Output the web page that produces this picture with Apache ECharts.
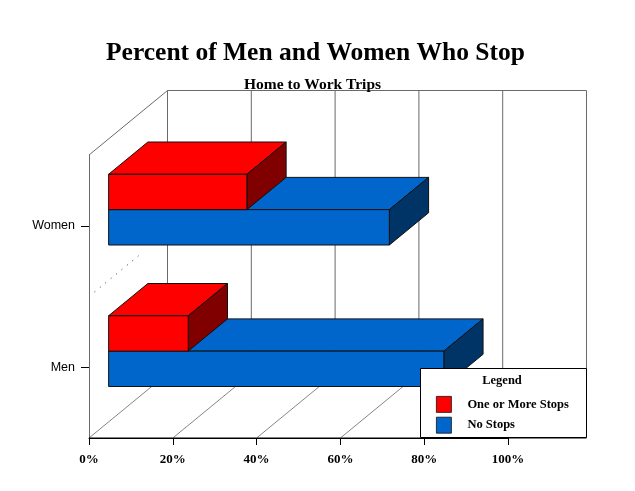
<!DOCTYPE html>
<html>
<head>
<meta charset="utf-8">
<script src="https://cdn.jsdelivr.net/npm/echarts@6/dist/echarts.min.js"></script>
<style>
  html, body { margin: 0; padding: 0; background: #fff; }
  #main { width: 635px; height: 491px; }
</style>
</head>
<body>
<div id="main"></div>
<script>
var categories = ['Men', 'Women'];
var stopsValues = [19, 33];      // One or More Stops
var noStopsValues = [80, 67];    // No Stops
var xTicks = [0, 20, 40, 60, 80, 100];

// depth of the fake 3d box, in pixels
var DX = 78.5, DY = -64.5;
var SERIF = 'Liberation Serif';

var myChart = echarts.init(document.getElementById('main'));

// walls, floor lines and back grid lines
function renderFrame(params, api) {
    var cs = params.coordSys;
    var top = cs.y, bottom = cs.y + cs.height;
    var x = api.coord([api.value(0), 0])[0];
    var kids = [
        { type: 'line', shape: { x1: x + DX, y1: top + DY, x2: x + DX, y2: bottom + DY },
          style: { stroke: '#6a6a6a', lineWidth: 1 } },
        { type: 'line', shape: { x1: x, y1: bottom, x2: x + DX, y2: bottom + DY },
          style: { stroke: '#333', lineWidth: 0.6 } }
    ];
    if (params.dataIndex === 0) {
        var right = cs.x + cs.width;
        var mid = (api.coord([0, 0])[1] + api.coord([0, 1])[1]) / 2;
        kids.push(
            { type: 'line', shape: { x1: cs.x, y1: top, x2: cs.x + DX, y2: top + DY },
              style: { stroke: '#6a6a6a', lineWidth: 1 } },
            { type: 'line', shape: { x1: cs.x + DX, y1: top + DY, x2: right + DX, y2: top + DY },
              style: { stroke: '#6a6a6a', lineWidth: 1 } },
            { type: 'line', shape: { x1: cs.x + DX, y1: bottom + DY, x2: right + DX, y2: bottom + DY },
              style: { stroke: '#6a6a6a', lineWidth: 0.6 } },
            { type: 'line', shape: { x1: cs.x, y1: bottom, x2: right + DX, y2: bottom },
              style: { stroke: '#000', lineWidth: 1 } },
            { type: 'line', shape: { x1: cs.x + DX * 0.07, y1: mid + DY * 0.07, x2: cs.x + DX * 0.63, y2: mid + DY * 0.63 },
              style: { stroke: '#333', lineWidth: 1, lineDash: [1, 6] } }
        );
    }
    return { type: 'group', children: kids };
}

// 3d bar, half of the band; upper = true for the red one
function makeBar(upper, front, side) {
    return function (params, api) {
        var cat = api.value(1);
        var p0 = api.coord([0, cat]);
        var p1 = api.coord([api.value(0), cat]);
        var band = api.size([0, 1])[1];
        var y0 = upper ? p0[1] - band * 0.25 : p0[1];
        var y1 = upper ? p0[1] : p0[1] + band * 0.25;
        var fx0 = p0[0] + DX * 0.25, fx1 = p1[0] + DX * 0.25;
        var fy0 = y0 + DY * 0.25, fy1 = y1 + DY * 0.25;
        var dx = DX * 0.5, dy = DY * 0.5;
        var edge = { stroke: '#111', lineWidth: 1, lineJoin: 'round' };
        return {
            type: 'group',
            children: [
                { type: 'polygon', shape: { points: [[fx0, fy0], [fx1, fy0], [fx1 + dx, fy0 + dy], [fx0 + dx, fy0 + dy]] },
                  style: Object.assign({ fill: front }, edge) },
                { type: 'polygon', shape: { points: [[fx1, fy0], [fx1 + dx, fy0 + dy], [fx1 + dx, fy1 + dy], [fx1, fy1]] },
                  style: Object.assign({ fill: side }, edge) },
                { type: 'polygon', shape: { points: [[fx0, fy0], [fx1, fy0], [fx1, fy1], [fx0, fy1]] },
                  style: Object.assign({ fill: front }, edge) }
            ]
        };
    };
}

myChart.setOption({
    animation: false,
    backgroundColor: '#fff',
    title: [
        {
            text: 'Percent of Men and Women Who Stop',
            left: 106, top: 40, padding: 0,
            textStyle: { fontFamily: SERIF, fontWeight: 'bold', fontSize: 25.5, color: '#000' }
        },
        {
            text: 'Home to Work Trips',
            left: 244, top: 77, padding: 0,
            textStyle: { fontFamily: SERIF, fontWeight: 'bold', fontSize: 15.5, color: '#000' }
        }
    ],
    grid: { left: 89, top: 155, width: 419, height: 283 },
    xAxis: {
        type: 'value', min: 0, max: 100, interval: 20,
        axisLine: { show: true, lineStyle: { color: '#000', width: 1 } },
        axisTick: { show: true, length: 7, lineStyle: { color: '#000' } },
        splitLine: { show: false },
        axisLabel: {
            formatter: '{value}%', margin: 15,
            fontFamily: SERIF, fontWeight: 'bold', fontSize: 13, color: '#000'
        }
    },
    yAxis: {
        type: 'category', data: categories,
        axisLine: { show: true, lineStyle: { color: '#6a6a6a', width: 1 } },
        axisTick: { show: true, alignWithLabel: true, length: 8, lineStyle: { color: '#000' } },
        axisLabel: { margin: 14, fontFamily: 'Liberation Sans', fontSize: 12.5, color: '#000' }
    },
    legend: {
        orient: 'vertical', left: 436, top: 396, padding: 0,
        itemWidth: 15, itemHeight: 16, itemGap: 4, z: 11,
        textStyle: { fontFamily: SERIF, fontWeight: 'bold', fontSize: 12.5, color: '#000', padding: [0, 0, 0, 11] },
        data: [
            { name: 'One or More Stops', icon: 'rect', itemStyle: { color: '#FF0000', borderColor: '#111', borderWidth: 0.8 } },
            { name: 'No Stops', icon: 'rect', itemStyle: { color: '#0066CC', borderColor: '#111', borderWidth: 0.8 } }
        ]
    },
    graphic: [
        { type: 'rect', z: 10, shape: { x: 420.5, y: 368.5, width: 166, height: 69 },
          style: { fill: '#fff', stroke: '#000', lineWidth: 1 } },
        { type: 'text', z: 11, x: 502, y: 381,
          style: { text: 'Legend', fontFamily: SERIF, fontWeight: 'bold', fontSize: 12.5, fill: '#000',
                   textAlign: 'center', textVerticalAlign: 'middle' } }
    ],
    series: [
        {
            type: 'custom', z: 1, silent: true,
            renderItem: renderFrame,
            data: xTicks.map(function (v) { return [v]; })
        },
        {
            name: 'No Stops', type: 'custom', z: 2,
            itemStyle: { color: '#0066CC' },
            renderItem: makeBar(false, '#0066CC', '#003366'),
            encode: { x: 0, y: 1 },
            data: noStopsValues.map(function (v, i) { return [v, i]; })
        },
        {
            name: 'One or More Stops', type: 'custom', z: 3,
            itemStyle: { color: '#FF0000' },
            renderItem: makeBar(true, '#FF0000', '#800000'),
            encode: { x: 0, y: 1 },
            data: stopsValues.map(function (v, i) { return [v, i]; })
        }
    ]
});
</script>
</body>
</html>
